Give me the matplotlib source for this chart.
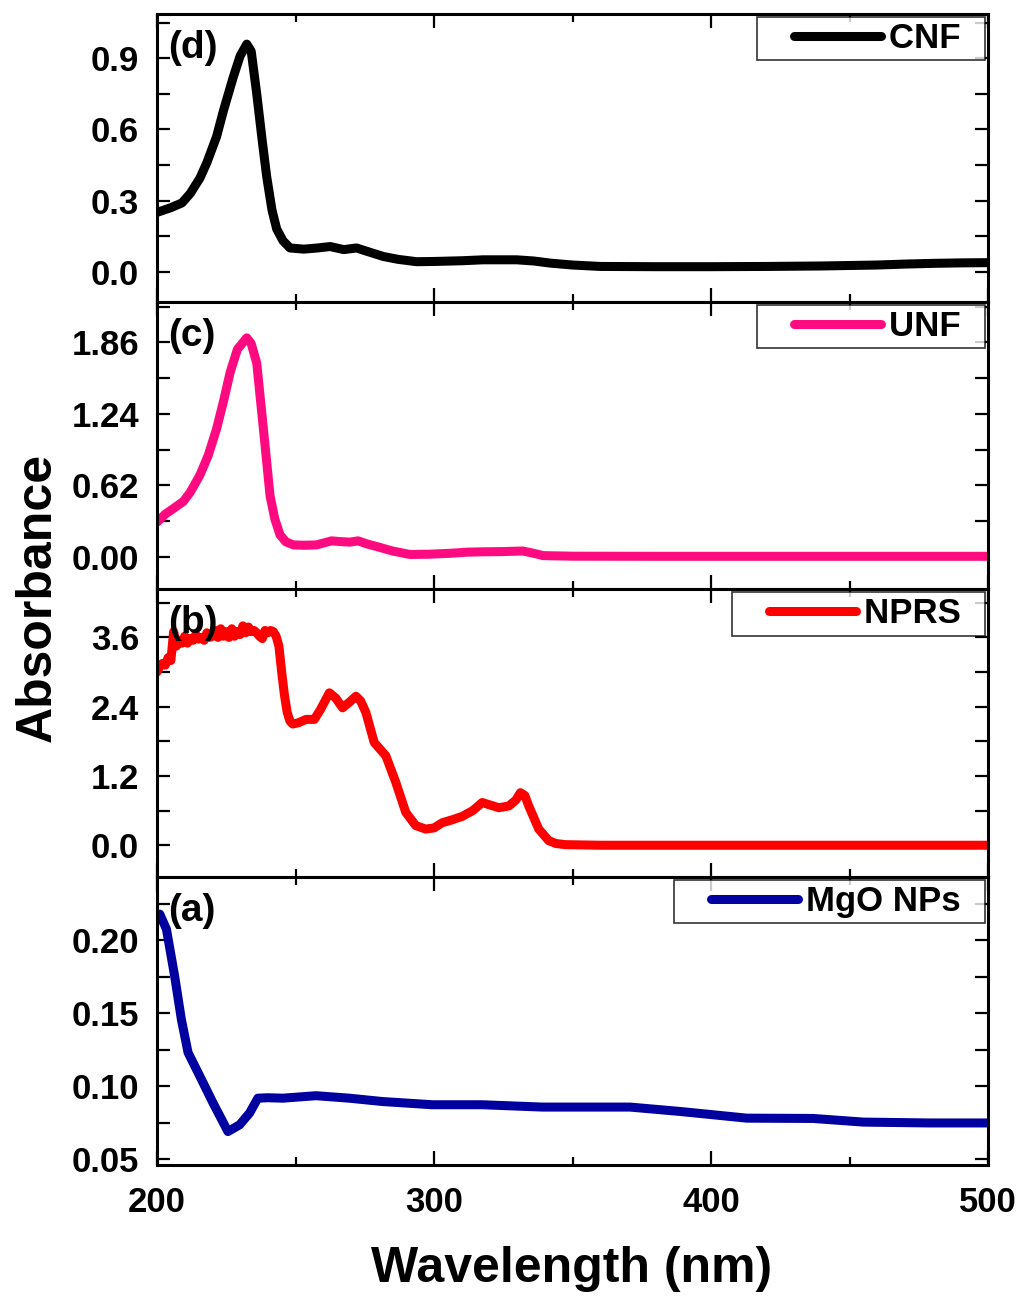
import numpy as np
import matplotlib
matplotlib.use("Agg")
import matplotlib.pyplot as plt
from matplotlib.ticker import MultipleLocator, FormatStrFormatter
from matplotlib.lines import Line2D
from matplotlib.legend_handler import HandlerLine2D

plt.rcParams['font.family'] = ['Liberation Sans', 'DejaVu Sans']
plt.rcParams['font.weight'] = 'bold'

# =============================================================================
# data
# =============================================================================
wl_cnf = [200, 205, 209, 212, 215.5, 218, 221.5, 224, 227.5, 230, 232.4, 234, 236, 238,
          239.6, 241.5, 243.2, 245.5, 248, 253, 258, 262.5, 267.4, 272, 276, 281.7, 287,
          293.7, 300, 310, 317.7, 325, 329.8, 336, 342, 350, 360, 380, 400, 420, 440,
          460, 470, 480, 490, 500]
abs_cnf = [0.25, 0.27, 0.29, 0.33, 0.395, 0.46, 0.57, 0.68, 0.82, 0.91, 0.96, 0.93, 0.75, 0.55,
           0.40, 0.26, 0.18, 0.13, 0.10, 0.095, 0.10, 0.106, 0.093, 0.10, 0.085, 0.064, 0.052,
           0.042, 0.043, 0.046, 0.05, 0.05, 0.05, 0.045, 0.036, 0.028, 0.022, 0.021, 0.021, 0.022, 0.024,
           0.028, 0.032, 0.035, 0.037, 0.038]

wl_unf = [200, 203, 206, 209.5, 212, 215.5, 218.5, 221.5, 224, 226.4, 229, 232.4, 234, 236,
          238.4, 240.8, 242.5, 244.4, 246.5, 249.2, 253, 257.6, 263, 266, 269.6, 272.6, 276,
          279.3, 285, 291.3, 298, 305.8, 312, 317.8, 325, 332, 336, 339.4, 350, 380, 420, 460, 500]
abs_unf = [0.30, 0.37, 0.42, 0.48, 0.56, 0.71, 0.88, 1.11, 1.35, 1.60, 1.80, 1.90, 1.85, 1.68,
           1.11, 0.53, 0.33, 0.19, 0.13, 0.103, 0.10, 0.103, 0.138, 0.132, 0.127, 0.138, 0.11,
           0.089, 0.05, 0.02, 0.022, 0.03, 0.04, 0.043, 0.045, 0.05, 0.03, 0.01, 0.005, 0.004, 0.004, 0.004, 0.004]

wl_nprs = [200, 201, 202, 203, 204, 205, 206, 207, 208, 209, 210, 211, 212, 213, 214, 215,
           216, 217, 218, 219, 220, 221, 222, 223, 224, 225, 226, 227, 228, 229, 230, 231,
           232, 233, 234, 235, 236, 237, 238, 239, 240, 241, 242, 243, 244, 245, 246, 247,
           248, 249, 251, 253.8, 256.8, 259, 262.2, 264.5, 267, 269.5, 271.8, 273.5, 275.4,
           278.4, 282.6, 286.2, 289.8, 293.4, 297, 300, 303, 306.5, 310.2, 314, 317.4, 320,
           323.4, 327, 329.5, 331.2, 332.8, 334.2, 337.8, 341.4, 344, 347.4, 360, 400, 450, 500]
abs_nprs = [3.0, 3.1, 3.15, 3.12, 3.25, 3.2, 3.7, 3.45, 3.55, 3.5, 3.62, 3.5, 3.58, 3.55, 3.65, 3.57,
            3.6, 3.55, 3.68, 3.6, 3.62, 3.72, 3.6, 3.75, 3.62, 3.7, 3.6, 3.75, 3.62, 3.7, 3.65, 3.8,
            3.68, 3.78, 3.7, 3.72, 3.68, 3.62, 3.58, 3.72, 3.68, 3.72, 3.7, 3.62, 3.45, 3.0, 2.6, 2.3,
            2.15, 2.1, 2.12, 2.18, 2.18, 2.35, 2.64, 2.55, 2.38, 2.48, 2.58, 2.5, 2.3,
            1.78, 1.55, 1.09, 0.57, 0.34, 0.28, 0.30, 0.39, 0.44, 0.50, 0.60, 0.74, 0.70,
            0.65, 0.68, 0.78, 0.91, 0.86, 0.68, 0.28, 0.08, 0.03, 0.01, 0.0, 0.0, 0.0, 0.0]

wl_mgo = [200, 201, 203.4, 206.4, 208.8, 211.2, 215.4, 220.2, 225.6, 229.8, 233.4, 236.4,
          240, 245.4, 257.4, 269.4, 281.4, 299.4, 317.4, 339, 352.7, 370.8, 388.8, 412.9,
          436.8, 455, 479, 500]
abs_mgo = [0.214, 0.218, 0.2076, 0.175, 0.1456, 0.123, 0.107, 0.0885, 0.0688, 0.0734, 0.0815, 0.0917,
           0.092, 0.0917, 0.0934, 0.0917, 0.0894, 0.0872, 0.0872, 0.0856, 0.0856, 0.0856, 0.0826, 0.078,
           0.0778, 0.0753, 0.0747, 0.0747]

# panels top to bottom
panels = [
    (wl_cnf, abs_cnf, 'CNF', 'black', '(d)', (-0.127, 1.087), 0.3, 0.15, '%.1f'),
    (wl_unf, abs_unf, 'UNF', '#FF0A80', '(c)', (-0.284, 2.213), 0.62, 0.31, '%.2f'),
    (wl_nprs, abs_nprs, 'NPRS', '#FF0000', '(b)', (-0.554, 4.43), 1.2, 0.6, '%.1f'),
    (wl_mgo, abs_mgo, 'MgO NPs', '#0000A0', '(a)', (0.0459, 0.2433), 0.05, 0.025, '%.2f'),
]

fig, axes = plt.subplots(4, 1, figsize=(10.21, 12.99), dpi=100, sharex=True)
fig.subplots_adjust(left=0.1538, right=0.9677, top=0.9892, bottom=0.1032, hspace=0)

for ax, (x, y, name, col, tag, ylim, maj, mnr, fmt) in zip(axes, panels):
    ax.plot(x, y, color=col, lw=6.5, label=name + '  ', solid_capstyle='round', solid_joinstyle='round')
    ax.set_xlim(200, 500)
    ax.set_ylim(*ylim)
    ax.yaxis.set_major_locator(MultipleLocator(maj))
    ax.yaxis.set_minor_locator(MultipleLocator(mnr))
    ax.yaxis.set_major_formatter(FormatStrFormatter(fmt))
    ax.xaxis.set_major_locator(MultipleLocator(100))
    ax.xaxis.set_minor_locator(MultipleLocator(50))
    ax.tick_params(which='both', direction='in', top=True, right=True, width=1.6, labelsize=25)
    ax.tick_params(axis='y', which='both', length=9.5, pad=13)
    ax.tick_params(axis='x', which='major', length=10)
    ax.tick_params(axis='x', which='minor', length=6)
    for s in ax.spines.values():
        s.set_linewidth(2.2)
    ax.text(0.013, 0.945, tag, transform=ax.transAxes, fontsize=28, fontweight='bold', va='top', ha='left')
    leg = ax.legend(loc='upper right', fontsize=25, frameon=True, fancybox=False, edgecolor='black',
                    handlelength=3.43, handletextpad=0.23, borderaxespad=0.08, borderpad=0.15,
                    handler_map={Line2D: HandlerLine2D(xpad=0.92)})
    leg.get_frame().set_linewidth(1.2)

axes[-1].tick_params(axis='x', pad=15)

fig.text(0.56, 0.023, 'Wavelength (nm)', ha='center', va='center', fontsize=36, fontweight='bold')
fig.text(0.037, 0.54, 'Absorbance', ha='center', va='center', rotation=90, fontsize=36, fontweight='bold')

plt.savefig('out.png', dpi=100)
